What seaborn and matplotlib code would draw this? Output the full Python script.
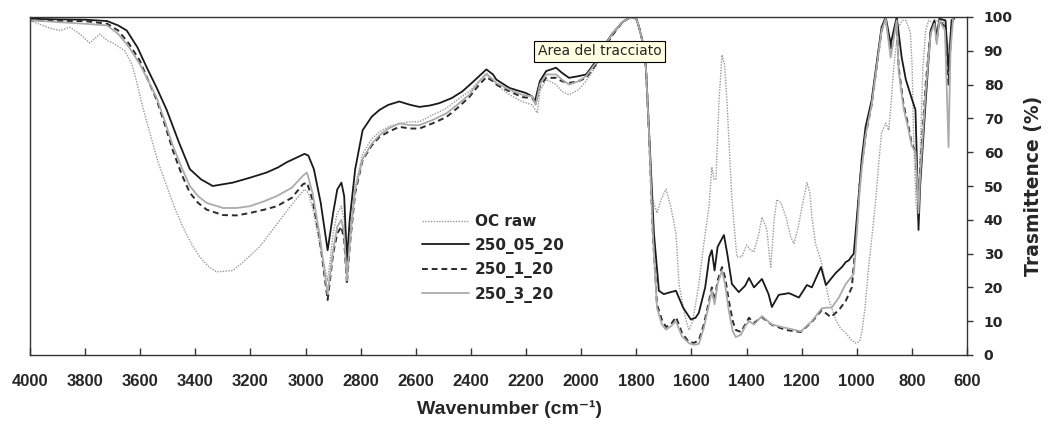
import pandas as pd
import matplotlib
matplotlib.use("Agg")
import matplotlib.pyplot as plt
import seaborn as sns

# values (wavenumber in cm-1, transmittance in %)
wn_oc = [4000, 3970, 3928, 3890, 3855, 3820, 3783, 3760, 3746, 3720, 3699, 3656, 3630, 3612,
         3590, 3565, 3535, 3504, 3475, 3446, 3415, 3384, 3350, 3323, 3264, 3220, 3167, 3120,
         3083, 3040, 3004, 2990, 2970, 2950, 2920, 2900, 2885, 2870, 2860, 2850, 2840, 2820,
         2793, 2760, 2732, 2700, 2660, 2620, 2587, 2540, 2489, 2450, 2406, 2370, 2344, 2320,
         2308, 2260, 2214, 2178, 2159, 2150, 2127, 2091, 2070, 2044, 2010, 1982, 1946, 1920,
         1888, 1850, 1820, 1800, 1790, 1775, 1765, 1754, 1740, 1725, 1710, 1692, 1675, 1656,
         1645, 1625, 1609, 1595, 1573, 1555, 1536, 1526, 1518, 1511, 1500, 1489, 1480, 1471,
         1453, 1435, 1417, 1405, 1399, 1385, 1373, 1355, 1344, 1335, 1326, 1318, 1312, 1300,
         1290, 1275, 1257, 1240, 1228, 1215, 1203, 1181, 1170, 1163, 1150, 1138, 1127, 1115,
         1101, 1076, 1060, 1040, 1020, 1004, 990, 982, 970, 957, 945, 931, 920, 910, 895, 884,
         875, 866, 855, 848, 835, 822, 812, 805, 799, 794, 785, 778, 772, 760, 750, 739, 720,
         700, 680, 667, 655, 645]
t_oc = [99, 98, 96.7, 96, 97, 95, 92.3, 94, 95, 93, 92.3, 90, 86, 80.5,
        73, 65.7, 57, 50, 43.5, 38, 33, 29, 26, 24.6, 25, 28, 32, 37,
        41, 45.5, 49, 48, 42, 33, 22, 36, 42, 44, 40, 24, 34, 50,
        59.5, 64, 66, 67.5, 68.5, 69, 69, 71, 73, 75.5, 78, 81, 83.5, 81.5,
        80, 77, 75, 74, 71.6, 78, 81.5, 80, 78, 77, 78.5, 81, 85.5, 90,
        94.5, 98.5, 100, 99.5, 97, 92, 85, 68, 46, 42, 46, 49, 44, 36,
        21, 12, 7.4, 10, 21, 33, 44, 55.6, 52, 52, 75, 88.8, 86, 75,
        46, 29, 29, 31.5, 32.5, 31, 30.5, 36, 40.8, 39, 37, 30, 26, 40,
        46, 45, 40.8, 35, 33, 37, 42, 51, 48, 41, 33, 30, 27, 22,
        16.3, 10.4, 8, 6.5, 4.5, 3.5, 4, 6.5, 14, 26, 35, 46, 57, 65.7, 68.6, 66.5,
        75, 85, 93, 97, 99, 99, 97, 95, 85, 65.7, 45, 40, 55, 85, 96, 99, 98,
        99.5, 98, 90, 99, 100]

wn_05 = [4000, 3900, 3800, 3720, 3680, 3649, 3610, 3576, 3540, 3504, 3460, 3420, 3380, 3337,
         3300, 3264, 3200, 3141, 3100, 3069, 3030, 3004, 2990, 2970, 2945, 2920, 2900, 2885,
         2870, 2860, 2850, 2840, 2820, 2793, 2760, 2732, 2700, 2660, 2620, 2587, 2550, 2515,
         2470, 2431, 2390, 2344, 2320, 2308, 2260, 2200, 2178, 2168, 2150, 2127, 2091, 2070,
         2044, 2010, 1982, 1946, 1920, 1888, 1850, 1820, 1800, 1790, 1775, 1765, 1754, 1736,
         1718, 1700, 1680, 1656, 1630, 1602, 1585, 1573, 1550, 1535, 1526, 1516, 1505, 1482,
         1470, 1453, 1428, 1405, 1391, 1373, 1344, 1320, 1308, 1283, 1246, 1210, 1181, 1163,
         1130, 1112, 1076, 1054, 1040, 1029, 1011, 995, 982, 968, 946, 925, 910, 895, 877,
         855, 837, 822, 801, 787, 781, 776, 770, 750, 732, 718, 710, 700, 678, 667, 656, 645]
t_05 = [99.5, 99.3, 99.2, 98.8, 97.5, 96, 91, 85, 79, 72.5, 63, 55, 52, 50,
        50.5, 51, 52.5, 54, 55.5, 57, 58.5, 59.5, 59, 55, 45, 31, 42, 49,
        51, 47, 28, 40, 55, 66.5, 70.5, 72.5, 74, 75, 74, 73.4, 73.8, 74.5,
        76, 78, 81, 84.5, 83, 81.5, 79, 77.5, 76.5, 75, 81, 84, 85, 83.5,
        82, 82.5, 83, 87, 91, 95, 98.5, 100, 99.5, 97, 92, 85, 66, 36,
        19, 18, 18.5, 19, 14, 10.5, 11, 12.5, 20, 29, 31, 25, 32, 35.5,
        30, 21, 18.6, 20.5, 22.8, 20, 22.5, 18, 14.2, 17.8, 18.3, 17, 20.7, 20,
        26, 20.7, 24.3, 26, 27.5, 28, 30, 45, 58, 67.5, 75.4, 88, 97, 100, 92,
        100, 88, 81.5, 76, 72.5, 55, 37, 50, 75, 96, 99, 94, 99.5, 99, 84, 99, 100]

wn_1 = [4000, 3900, 3800, 3720, 3680, 3640, 3601, 3570, 3540, 3510, 3482, 3450, 3420, 3390,
        3359, 3300, 3250, 3203, 3150, 3105, 3050, 3010, 2995, 2975, 2950, 2920, 2900, 2885,
        2870, 2860, 2850, 2840, 2820, 2793, 2760, 2732, 2700, 2660, 2620, 2587, 2540, 2489,
        2450, 2406, 2370, 2344, 2320, 2308, 2260, 2214, 2178, 2165, 2150, 2127, 2091, 2070,
        2044, 2010, 1982, 1946, 1920, 1888, 1850, 1820, 1800, 1790, 1775, 1765, 1754, 1740,
        1725, 1707, 1692, 1675, 1656, 1634, 1609, 1590, 1573, 1555, 1536, 1526, 1516, 1505,
        1489, 1478, 1464, 1450, 1439, 1420, 1405, 1391, 1373, 1344, 1308, 1257, 1203, 1163,
        1127, 1094, 1065, 1040, 1018, 1005, 990, 982, 968, 946, 925, 910, 895, 877, 855, 848,
        830, 812, 801, 787, 780, 776, 770, 750, 732, 718, 710, 700, 680, 667, 656, 645]
t_1 = [99, 98.8, 98.8, 98, 96, 92, 87, 81, 75.4, 68, 60.6, 53.5, 48, 45,
       43, 41.4, 41.3, 42, 43, 44, 46.5, 50.5, 51, 46, 35, 16.3, 30, 36,
       38, 34, 21, 32, 48, 57.7, 62, 64.5, 66, 67.5, 67, 67, 68.5, 70.4,
       73, 76.3, 80, 82.2, 81, 80, 78, 76.3, 76, 74.5, 79.5, 82, 82, 81,
       80.5, 81, 82, 86, 90, 94.5, 98.5, 100, 99.5, 97, 92, 85, 66, 36,
       15, 10.4, 8.3, 9, 11.2, 6.5, 3.8, 3.6, 4.4, 9, 16, 20, 16, 22,
       26, 23, 16, 10, 7.4, 6.8, 9, 11, 9.5, 11.2, 8.9, 7.4, 6.8, 9.8,
       13.3, 11.2, 13.3, 16, 20, 32, 50, 56, 65, 74, 87, 96, 99.5, 90, 99, 85,
       74, 67.5, 62.7, 60, 50, 45, 55, 80, 96, 98.5, 93, 99, 97, 80, 98, 100]

wn_3 = [4000, 3900, 3800, 3720, 3680, 3640, 3601, 3570, 3540, 3510, 3482, 3450, 3420, 3390,
        3359, 3300, 3250, 3203, 3150, 3105, 3050, 3010, 2995, 2975, 2950, 2920, 2900, 2885,
        2870, 2860, 2850, 2840, 2820, 2793, 2760, 2732, 2700, 2660, 2620, 2587, 2540, 2489,
        2450, 2406, 2370, 2344, 2320, 2308, 2260, 2214, 2178, 2165, 2150, 2127, 2091, 2070,
        2044, 2010, 1982, 1946, 1920, 1888, 1850, 1820, 1800, 1790, 1775, 1765, 1754, 1740,
        1725, 1707, 1692, 1675, 1656, 1634, 1609, 1590, 1573, 1555, 1536, 1526, 1516, 1505,
        1489, 1478, 1464, 1450, 1439, 1420, 1405, 1391, 1373, 1344, 1308, 1257, 1203, 1163,
        1127, 1110, 1091, 1065, 1040, 1011, 1005, 990, 982, 968, 946, 925, 910, 895, 877,
        855, 848, 830, 812, 801, 787, 780, 776, 770, 750, 732, 718, 710, 700, 680, 667,
        660, 650]
t_3 = [99, 98.5, 98, 97.5, 95, 91, 86, 81, 76, 69, 62, 55.5, 50, 47,
       45, 43.5, 43.5, 44, 45.5, 47, 49.5, 53, 54, 48, 36, 18, 31, 38,
       40, 36, 22, 33, 49, 58, 62.5, 65, 67, 68.5, 68, 68, 69.5, 71.5,
       74, 77, 81, 83, 81.5, 80.5, 78.5, 77, 76.5, 74, 80, 83, 83, 81.5,
       80, 81, 82.5, 86.5, 90.5, 95, 98.5, 100, 99.5, 97, 92, 85, 66, 36,
       14, 9, 7.5, 8.5, 10, 5.5, 3.5, 3, 3.3, 8, 15, 19, 15, 21,
       25, 21, 13, 7, 5.3, 6, 8.5, 10, 9, 11.5, 9, 8, 7, 10,
       13.8, 14, 14, 17, 21, 24, 30, 48, 55, 65, 74, 87, 96, 99.5, 88,
       99, 84, 73, 66.5, 62, 60, 50, 42, 53, 78, 95, 98, 92, 99, 96, 61.5,
       90, 100]

samples = ["OC raw", "250_05_20", "250_1_20", "250_3_20"]

frames = []
for name, x, y in zip(samples, [wn_oc, wn_05, wn_1, wn_3], [t_oc, t_05, t_1, t_3]):
    frames.append(pd.DataFrame({"Wavenumber": x, "T": y, "sample": name}))
df = pd.concat(frames, ignore_index=True)

sns.set_theme(style="white")
plt.rcParams["font.family"] = ["DejaVu Sans"]

fig, ax = plt.subplots(figsize=(10.51, 4.25), dpi=100)
fig.subplots_adjust(left=30 / 1051, right=967 / 1051, bottom=1 - 355 / 425, top=1 - 17 / 425)

colors = {"OC raw": "#999999", "250_05_20": "#1a1a1a", "250_1_20": "#2b2b2b", "250_3_20": "#ababab"}
dashes = {"OC raw": (1, 1), "250_05_20": "", "250_1_20": (3, 2), "250_3_20": ""}
sizes = {"OC raw": 1.0, "250_05_20": 1.3, "250_1_20": 1.4, "250_3_20": 1.3}

sns.lineplot(data=df, x="Wavenumber", y="T", hue="sample", style="sample", size="sample",
             hue_order=samples, style_order=samples, size_order=samples,
             palette=colors, dashes=dashes, sizes=sizes, estimator=None, ax=ax)

# axes
ax.set_xlim(4000, 600)
ax.set_xticks(range(4000, 599, -200))
ax.set_ylim(0, 100)
ax.set_yticks(range(0, 101, 10))
ax.yaxis.tick_right()
ax.yaxis.set_label_position("right")

ax.tick_params(axis="x", bottom=True, direction="in", length=5, width=1, pad=14,
               labelsize=12, color="#333333")
ax.tick_params(axis="y", right=True, left=False, direction="out", length=4, width=1,
               pad=8, labelsize=10, color="#333333")
for lab in ax.get_xticklabels():
    lab.set_fontfamily(["Liberation Sans", "DejaVu Sans"])
    lab.set_fontweight("bold")
for lab in ax.get_yticklabels():
    lab.set_fontweight("bold")

for sp in ax.spines.values():
    sp.set_visible(True)
    sp.set_color("#333333")
    sp.set_linewidth(1)

ax.set_xlabel("Wavenumber (cm⁻¹)", fontsize=14, fontweight="bold",
              family=["Liberation Sans", "DejaVu Sans"])
ax.xaxis.set_label_coords(0.512, -0.135)
ax.set_ylabel("Trasmittence (%)", fontsize=13.5, fontweight="bold", labelpad=8)

# legend
handles, labels = ax.get_legend_handles_labels()
keep = [(h, l) for h, l in zip(handles, labels) if l in samples]
ax.legend([h for h, _ in keep], [l for _, l in keep], loc="upper left",
          bbox_to_anchor=(0.418, 0.417), frameon=False,
          prop={"weight": "bold", "size": 11}, handlelength=3.1, handletextpad=0.4,
          labelspacing=0.56, borderaxespad=0, borderpad=0)

# tooltip-like box
ax.text(0.608, 0.899, "Area del tracciato", transform=ax.transAxes, ha="center", va="center",
        fontsize=10, zorder=5,
        bbox=dict(boxstyle="square,pad=0.25", fc="#ffffe1", ec="black", lw=0.8))

fig.savefig("out.png", dpi=100)
